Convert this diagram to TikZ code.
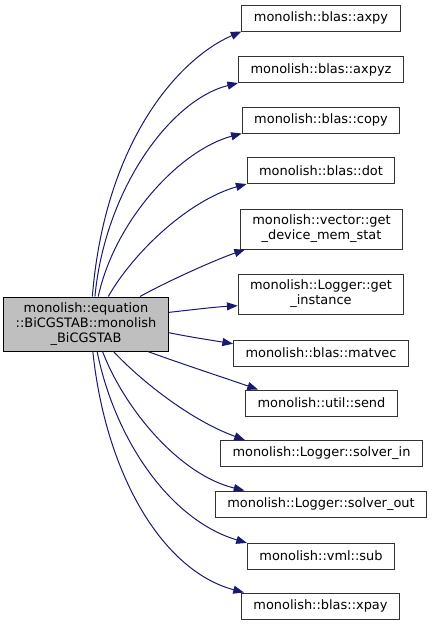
\documentclass[tikz,border=0pt]{standalone}
\usepackage{fontspec}
\setmainfont{DejaVu Sans}
\usetikzlibrary{arrows.meta}
\definecolor{edgeblue}{HTML}{191970}
\begin{document}
\begin{tikzpicture}[x=0.75pt,y=-0.75pt,
  fn/.style={draw=black!80, line width=0.75pt, fill=white, align=center, inner xsep=9pt, inner ysep=1pt, minimum height=19.5pt, font=\fontsize{9.7}{11.25}\selectfont},
  call/.style={draw=edgeblue, line width=0.75pt, -{Triangle[length=8pt,width=6pt]}}]
\useasboundingbox (0,0) rectangle (432,625);
\node[fn, fill=black!25, draw=black, minimum height=40.5pt] (main) at (86,324) {monolish::equation\\::BiCGSTAB::monolish\\\_BiCGSTAB};
\node[fn] (axpy) at (321,18) {monolish::blas::axpy};
\node[fn] (axpyz) at (321,69.5) {monolish::blas::axpyz};
\node[fn] (copy) at (321,120) {monolish::blas::copy};
\node[fn] (dot) at (321,170.5) {monolish::blas::dot};
\node[fn, minimum height=30pt] (getdev) at (321.5,229) {monolish::vector::get\\\_device\_mem\_stat};
\node[fn, minimum height=30pt] (getinst) at (321,294) {monolish::Logger::get\\\_instance};
\node[fn] (matvec) at (321,353) {monolish::blas::matvec};
\node[fn] (send) at (321.5,403) {monolish::util::send};
\node[fn] (solverin) at (321.5,453.5) {monolish::Logger::solver\_in};
\node[fn] (solverout) at (321,504) {monolish::Logger::solver\_out};
\node[fn] (sub) at (321,556) {monolish::vml::sub};
\node[fn] (xpay) at (320.5,606) {monolish::blas::xpay};
% calls from the solver
\draw[call] (main.77) .. controls (105,140) and (180,58) .. (axpy.south west);
\draw[call] (main.72) .. controls (105,190) and (170,100) .. (axpyz.south west);
\draw[call] (main.66) .. controls (115,220) and (180,150) .. (copy.south west);
\draw[call] (main.51) .. controls (135,250) and (190,200) .. (dot.south west);
\draw[call] (main.27) .. controls (170,280) and (215,260) .. (getdev.195);
\draw[call] (main.8) .. controls (190,310) and (215,307) .. (getinst.188);
\draw[call] (main.-6) .. controls (190,337) and (210,340) .. (matvec.174);
\draw[call] (main.-24) .. controls (185,365) and (225,378) .. (send.168);
\draw[call] (main.-45) .. controls (140,380) and (190,420) .. (solverin.170);
\draw[call] (main.-59) .. controls (125,410) and (180,475) .. (solverout.170);
\draw[call] (main.-68) .. controls (115,440) and (170,520) .. (sub.170);
\draw[call] (main.-76) .. controls (105,470) and (160,570) .. (xpay.170);
\end{tikzpicture}
\end{document}
